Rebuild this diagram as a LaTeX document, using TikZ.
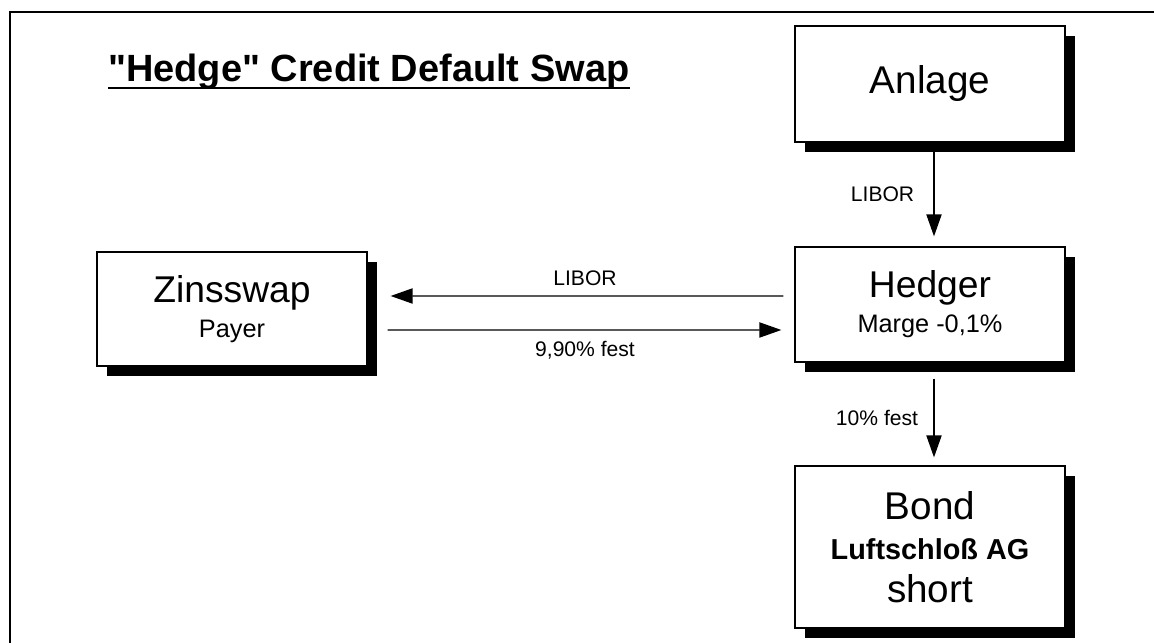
\documentclass[tikz,border=0pt]{standalone}
\usepackage{fontspec}
\setmainfont{Liberation Sans}[Ligatures=TeXOff]
\usetikzlibrary{arrows.meta,shadows}

\tikzset{
    box/.style={draw=black, line width=0.9pt, fill=white, minimum width=6.75cm, align=center,
        drop shadow={shadow xshift=0.25cm, shadow yshift=-0.25cm, fill=black, opacity=1}},
    flow/.style={-{Triangle[length=0.55cm, width=0.38cm]}, line width=1pt},
    lbl/.style={font=\fontsize{15}{18}\selectfont}
}

\begin{document}
\begin{tikzpicture}
    \useasboundingbox (0,0) rectangle (28.85,16.075);
    \draw[line width=1.4pt] (0.25,0) -- (0.25,15.775) -- (28.85,15.775);

    \node[anchor=base west, inner sep=0pt, font=\fontsize{27}{30}\selectfont\bfseries] at (2.7,14.025) (title) {"Hedge" Credit Default Swap};
    \draw[line width=2.1pt] ([yshift=-1.5mm]title.base west) -- ([yshift=-1.5mm]title.base east);

    \node[box, minimum height=2.9cm, font=\fontsize{27.5}{30}\selectfont] at (23.25,13.975) (Anlage) {Anlage};
    \node[box, minimum height=2.875cm, font=\fontsize{26.5}{25}\selectfont] at (23.25,8.4625) (Hedger) {Hedger\\\fontsize{18}{25}\selectfont Marge -0,1\%};
    \node[box, minimum height=2.85cm, font=\fontsize{26.5}{25}\selectfont] at (5.8,8.35) (Zins) {Zinsswap\\\fontsize{18}{25}\selectfont Payer};
    \node[box, minimum height=4.05cm, font=\fontsize{27.5}{28.5}\selectfont] at (23.25,2.4) (Bond) {Bond\\\fontsize{20.5}{28.5}\selectfont\bfseries Luftschloß AG\\[2.1pt]short};

    \draw[flow, shorten <=0.225cm, shorten >=0.25cm] ([xshift=1mm]Anlage.south) -- ([xshift=1mm]Hedger.north) node[midway, left=3.6mm, lbl] {LIBOR};
    \draw[flow, shorten <=0.275cm, shorten >=0.575cm] ([yshift=2.125mm]Hedger.west) -- ([yshift=3.25mm]Zins.east) node[midway, above=1.25mm, xshift=1mm, lbl] {LIBOR};
    \draw[flow, shorten <=0.5cm, shorten >=0.325cm] ([yshift=-5.25mm]Zins.east) -- ([yshift=-6.375mm]Hedger.west) node[midway, below=1.5mm, xshift=1mm, lbl] {9,90\% fest};
    \draw[flow, shorten <=0.4cm, shorten >=0.2cm] ([xshift=1mm]Hedger.south) -- ([xshift=1mm]Bond.north) node[pos=0.54, left=2.65mm, lbl] {10\% fest};
\end{tikzpicture}
\end{document}
